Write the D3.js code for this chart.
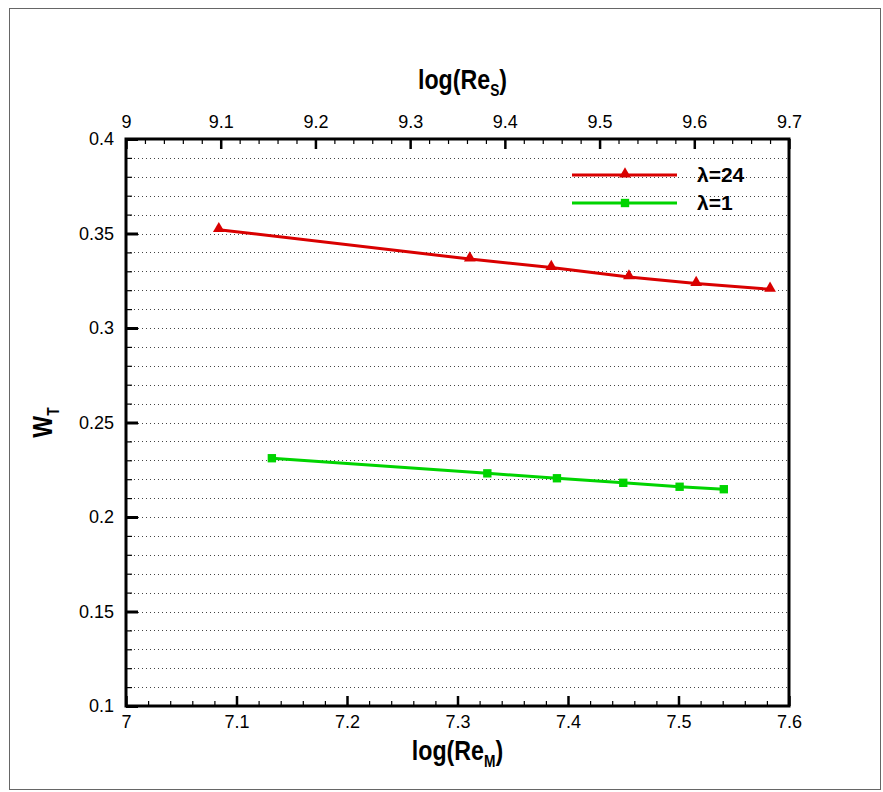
<!DOCTYPE html>
<html><head><meta charset="utf-8">
<script src="https://cdn.jsdelivr.net/npm/d3@7/dist/d3.min.js"></script>
<style>
html,body{margin:0;padding:0;background:#fff;}
svg{display:block;}
</style>
</head><body>
<svg id="chart" width="883" height="792"></svg>
<script>
// ---- data ----
const seriesNames = ["λ=24", "λ=1"];
// λ=24 series, plotted against the top axis log(Re_s)
const redX = [9.098, 9.363, 9.449, 9.531, 9.602, 9.68];
const redY = [0.352, 0.3365, 0.332, 0.327, 0.3235, 0.3205];
// λ=1 series, plotted against the bottom axis log(Re_M)
const greenX = [7.132, 7.327, 7.390, 7.450, 7.501, 7.541];
const greenY = [0.2311, 0.2231, 0.2205, 0.2181, 0.2160, 0.2147];
const bottomTicks = [7, 7.1, 7.2, 7.3, 7.4, 7.5, 7.6];
const topTicks = [9, 9.1, 9.2, 9.3, 9.4, 9.5, 9.6, 9.7];
const yTicks = [0.1, 0.15, 0.2, 0.25, 0.3, 0.35, 0.4];

const L = 126, R = 789, T = 139, B = 706;
const svg = d3.select("#chart");
const xBot = d3.scaleLinear().domain([7, 7.6]).range([L, R]);
const xTop = d3.scaleLinear().domain([9, 9.7]).range([L, R]);
const y = d3.scaleLinear().domain([0.1, 0.4]).range([B, T]);

// outer frame
svg.append("rect").attr("x", 9.5).attr("y", 8.5).attr("width", 871).attr("height", 781)
  .attr("fill", "none").attr("stroke", "#666").attr("stroke-width", 1);

// gridlines every 0.01
const gridVals = d3.range(11, 40).map(v => v / 100);
svg.append("g").selectAll("line").data(gridVals).join("line")
  .attr("x1", L).attr("x2", R)
  .attr("y1", d => Math.round(y(d)) + 0.5).attr("y2", d => Math.round(y(d)) + 0.5)
  .attr("stroke", "#444").attr("stroke-width", 1).attr("stroke-dasharray", "1,3");

const font = "'Liberation Sans', Arial, sans-serif";
const lblSize = 18;

// bottom axis
const minorBot = d3.range(0, 31).map(i => 7 + i * 0.02).filter(v => Math.abs(v * 10 - Math.round(v * 10)) > 1e-6);
svg.append("g").attr("transform", `translate(0,${B})`)
  .call(d3.axisBottom(xBot).tickValues(minorBot).tickSize(-5).tickFormat(""))
  .call(g => { g.select(".domain").remove(); g.selectAll("line").attr("stroke-width", 1.2); });
svg.append("g").attr("transform", `translate(0,${B})`)
  .call(d3.axisBottom(xBot).tickValues(bottomTicks).tickSize(-10).tickPadding(9).tickFormat(d3.format("~g")))
  .call(g => {
    g.select(".domain").remove();
    g.selectAll("line").attr("stroke-width", 2.5);
    g.selectAll("text").attr("font-family", font).attr("font-size", lblSize).attr("fill", "#000");
  });

// top axis
const minorTop = d3.range(0, 36).map(i => 9 + i * 0.02).filter(v => Math.abs(v * 10 - Math.round(v * 10)) > 1e-6);
svg.append("g").attr("transform", `translate(0,${T})`)
  .call(d3.axisTop(xTop).tickValues(minorTop).tickSize(-5).tickFormat(""))
  .call(g => { g.select(".domain").remove(); g.selectAll("line").attr("stroke-width", 1.2); });
svg.append("g").attr("transform", `translate(0,${T})`)
  .call(d3.axisTop(xTop).tickValues(topTicks).tickSize(-10).tickPadding(11).tickFormat(d3.format("~g")))
  .call(g => {
    g.select(".domain").remove();
    g.selectAll("line").attr("stroke-width", 2.5);
    g.selectAll("text").attr("font-family", font).attr("font-size", lblSize).attr("fill", "#000");
  });

// left axis
svg.append("g").attr("transform", `translate(${L},0)`)
  .call(d3.axisLeft(y).tickValues(gridVals).tickSize(-6).tickFormat(""))
  .call(g => { g.select(".domain").remove(); g.selectAll("line").attr("stroke-width", 1.2); });
svg.append("g").attr("transform", `translate(${L},0)`)
  .call(d3.axisLeft(y).tickValues(yTicks).tickSize(-12).tickPadding(12).tickFormat(d3.format("~g")))
  .call(g => {
    g.select(".domain").remove();
    g.selectAll("line").attr("stroke-width", 3);
    g.selectAll("text").attr("font-family", font).attr("font-size", lblSize).attr("fill", "#000");
  });

// plot frame
svg.append("rect").attr("x", L).attr("y", T).attr("width", R - L).attr("height", B - T)
  .attr("fill", "none").attr("stroke", "#000").attr("stroke-width", 3);

// series
const redCol = "#d90000", greenCol = "#00d400";
const redData = redX.map((v, i) => [xTop(v), y(redY[i])]);
const greenData = greenX.map((v, i) => [xBot(v), y(greenY[i])]);
const line = d3.line();
svg.append("path").attr("d", line(redData)).attr("fill", "none").attr("stroke", redCol).attr("stroke-width", 3);
svg.append("path").attr("d", line(greenData)).attr("fill", "none").attr("stroke", greenCol).attr("stroke-width", 3);
const tri = d3.symbol().type(d3.symbolTriangle).size(60);
const sq = d3.symbol().type(d3.symbolSquare).size(70);
svg.append("g").selectAll("path").data(redData).join("path")
  .attr("d", tri).attr("transform", d => `translate(${d[0]},${d[1] - 1})`).attr("fill", redCol);
svg.append("g").selectAll("path").data(greenData).join("path")
  .attr("d", sq).attr("transform", d => `translate(${d[0]},${d[1]})`).attr("fill", greenCol);

// legend
const legY = [175, 203], legCols = [redCol, greenCol], legSym = [tri, sq];
const legend = svg.append("g");
seriesNames.forEach((name, i) => {
  legend.append("line").attr("x1", 572).attr("x2", 677).attr("y1", legY[i]).attr("y2", legY[i])
    .attr("stroke", legCols[i]).attr("stroke-width", 3);
  legend.append("path").attr("d", legSym[i]).attr("transform", `translate(625,${legY[i] - (i === 0 ? 1 : 0)})`).attr("fill", legCols[i]);
  legend.append("text").attr("x", 697).attr("y", legY[i] + 7).attr("font-family", font)
    .attr("font-weight", "bold").attr("font-size", 21).text(name);
});

// axis titles (condensed bold look)
function title(x, yy, rot, main, sub, after) {
  const t = svg.append("text")
    .attr("transform", `translate(${x},${yy}) rotate(${rot}) scale(0.86,1)`)
    .attr("text-anchor", "middle")
    .attr("font-family", font).attr("font-weight", "bold").attr("font-size", 27);
  t.append("tspan").text(main);
  t.append("tspan").attr("font-size", 16).attr("dy", 7).text(sub);
  if (after) t.append("tspan").attr("dy", -7).text(after);
  return t;
}
title((L + R) / 2 + 5, 89, 0, "log(Re", "S", ")");
title((L + R) / 2, 760, 0, "log(Re", "M", ")");
title(52, (T + B) / 2, -90, "W", "T", "");
</script>
</body></html>
